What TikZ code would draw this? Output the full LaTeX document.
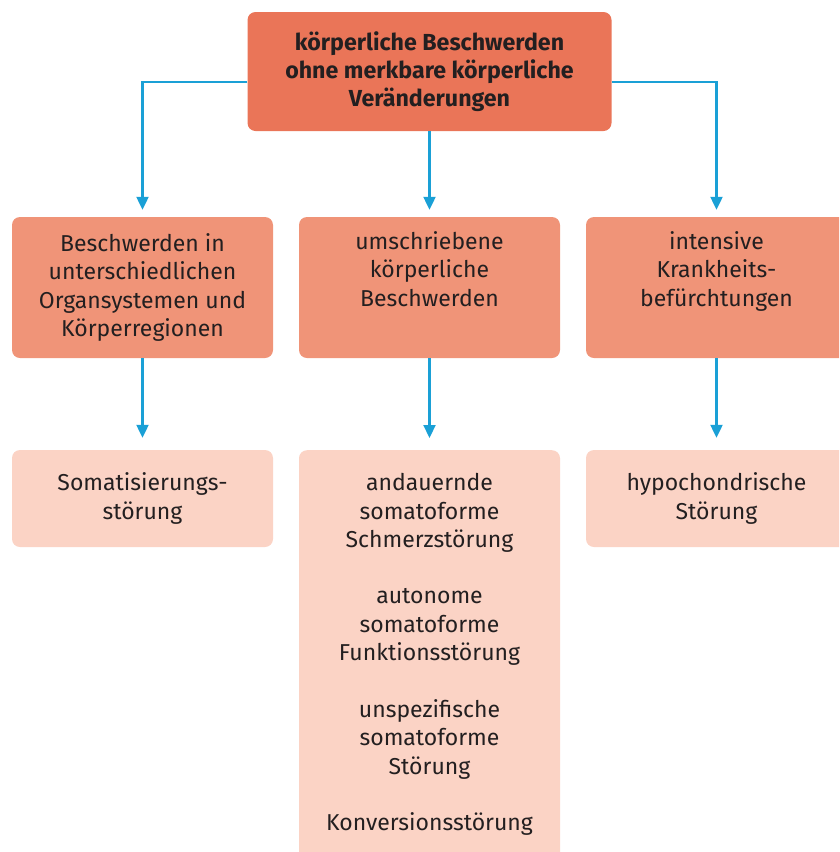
\documentclass[tikz,border=0pt]{standalone}
\usepackage{fontspec}
\setmainfont{Fira Sans}
\usetikzlibrary{arrows.meta,positioning}
\definecolor{topred}{HTML}{EA7558}
\definecolor{midred}{HTML}{F09478}
\definecolor{lowred}{HTML}{FBD3C5}
\definecolor{linkblue}{HTML}{1AA0D6}
\definecolor{textgray}{HTML}{231F20}

\begin{document}
\begin{tikzpicture}[x=1pt,y=-1pt,
    box/.style={rectangle,rounded corners=8pt,align=center,text=textgray,inner sep=0pt,font=\fontsize{23}{28.6}\selectfont},
    topbox/.style={box,fill=topred,minimum width=364pt,minimum height=119pt,font=\fontsize{23.2}{28}\selectfont\bfseries},
    midbox/.style={box,fill=midred,minimum width=261pt,minimum height=141pt},
    lowbox/.style={box,fill=lowred,minimum width=261pt,minimum height=97pt},
    link/.style={draw=linkblue,line width=2.2pt,-{Triangle[width=12pt,length=13pt]},shorten >=7pt}]
    \useasboundingbox (0,0) rectangle (839,852);
    \clip (0,0) rectangle (839,852);

    \node   [topbox]    (top) at (429.5,71.5)   {körperliche Beschwerden\\ohne merkbare körperliche\\Veränderungen};

    \node   [midbox]    (m1) at (142.5,287.5)   {Beschwerden in\\unterschiedlichen\\Organsystemen und\\Körperregionen};
    \node   [midbox]    (m2) at (429.5,287.5)   {umschriebene\\körperliche\\Beschwerden\\\strut};
    \node   [midbox]    (m3) at (716.5,287.5)   {intensive\\Krankheits-\\befürchtungen\\\strut};

    \node   [lowbox]    (l1) at (142.5,498.5)   {Somatisierungs-\\störung};
    \node   [lowbox,anchor=north,minimum height=0pt,inner ysep=23pt]
                        (l2) at (429.5,450)     {andauernde\\somatoforme\\Schmerzstörung\\[27.5pt]autonome\\somatoforme\\Funktionsstörung\\[27.5pt]unspezifische\\somatoforme\\Störung\\[27.5pt]Konversionsstörung\\\strut};
    \node   [lowbox]    (l3) at (716.5,498.5)   {hypochondrische\\Störung};

    \path   [link] ([yshift=-10.5pt]top.west) -| (m1.north);
    \path   [link] (top.south) -- (m2.north);
    \path   [link] ([yshift=-10.5pt]top.east) -| (m3.north);

    \path   [link,shorten >=12pt] (m1.south) -- (l1.north);
    \path   [link,shorten >=12pt] (m2.south) -- (l2.north);
    \path   [link,shorten >=12pt] (m3.south) -- (l3.north);
\end{tikzpicture}
\end{document}
